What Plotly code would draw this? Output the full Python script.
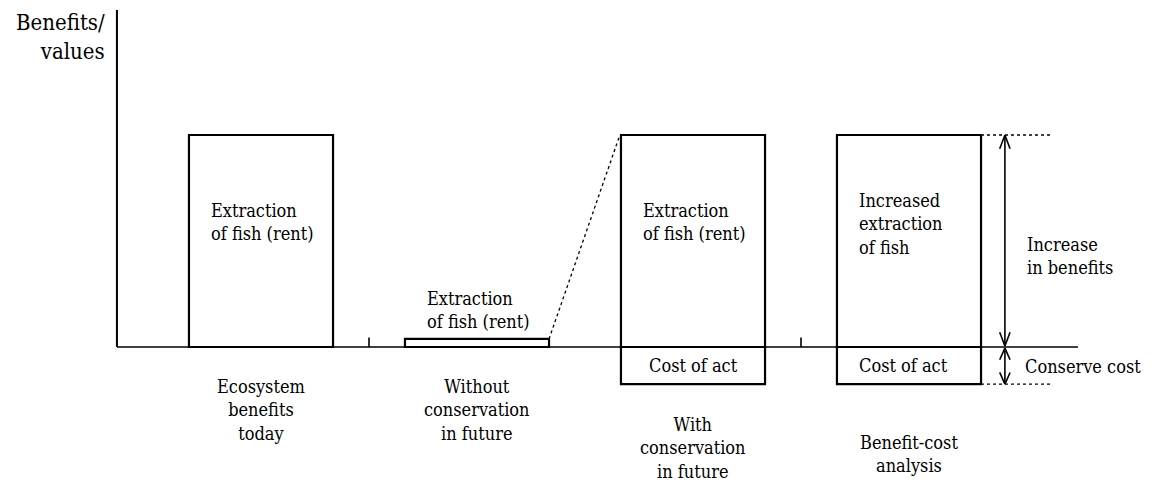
import plotly.graph_objects as go

# ---- data ----
positions = [1, 2, 3, 4]
categories = ["Ecosystem<br>benefits<br>today",
              "Without<br>conservation<br>in future",
              "With<br>conservation<br>in future",
              "Benefit-cost<br>analysis"]
benefits = [10, 0.38, 10, 10]
cost_positions = [3, 4]
costs = [1.75, 1.75]
bar_texts = ["Extraction<br>of fish (rent)",
             "Extraction<br>of fish (rent)",
             "Extraction<br>of fish (rent)",
             "Increased<br>extraction<br>of fish"]
cost_text = "Cost of act"
y_label = "Benefits/<br>values"

BAR_W = 0.667
FONT = "DejaVu Serif Condensed, DejaVu Serif"

fig = go.Figure()

fig.add_trace(go.Bar(x=positions, y=benefits, base=[0]*4, width=BAR_W,
                     marker=dict(color="white", line=dict(color="black", width=2.2)),
                     hoverinfo="skip", showlegend=False))
fig.add_trace(go.Bar(x=cost_positions, y=costs, base=[-c for c in costs], width=BAR_W,
                     marker=dict(color="white", line=dict(color="black", width=2.2)),
                     hoverinfo="skip", showlegend=False))

x_axis0 = positions[0] - BAR_W
x_axis1 = 4.782
y_top = 15.9

shapes = []
shapes.append(dict(type="line", x0=x_axis0, x1=x_axis0, y0=0, y1=y_top,
                   line=dict(color="black", width=2)))
shapes.append(dict(type="line", x0=x_axis0, x1=x_axis1, y0=0, y1=0,
                   line=dict(color="black", width=1.6)))
for t in [1.5, 3.5]:
    shapes.append(dict(type="line", x0=t, x1=t, y0=0, y1=0.45,
                       line=dict(color="black", width=1.6)))
shapes.append(dict(type="line", x0=positions[1] + BAR_W / 2, y0=benefits[1],
                   x1=positions[2] - BAR_W / 2 - 0.005, y1=benefits[2],
                   line=dict(color="black", width=1.3, dash="dot")))
right4 = positions[3] + BAR_W / 2
guide_end = 4.653
shapes.append(dict(type="line", x0=right4, x1=guide_end, y0=benefits[3], y1=benefits[3],
                   line=dict(color="black", width=1.3, dash="dot")))
shapes.append(dict(type="line", x0=right4, x1=guide_end, y0=-costs[1], y1=-costs[1],
                   line=dict(color="black", width=1.3, dash="dot")))

ax = 4.444
hw = 0.024
def double_arrow(y0, y1, h):
    shapes.append(dict(type="line", x0=ax, x1=ax, y0=y0, y1=y1,
                       line=dict(color="black", width=1.6)))
    for (yt, d) in [(y1, -1), (y0, 1)]:
        shapes.append(dict(type="line", x0=ax - hw, x1=ax, y0=yt + d * h, y1=yt,
                           line=dict(color="black", width=1.6)))
        shapes.append(dict(type="line", x0=ax + hw, x1=ax, y0=yt + d * h, y1=yt,
                           line=dict(color="black", width=1.6)))
double_arrow(0.05, benefits[3], 0.65)
double_arrow(-costs[1], -0.05, 0.55)

annotations = []
def ann(x, y, text, size=18, xanchor="center", align="center"):
    annotations.append(dict(x=x, y=y, xref="x", yref="y", text=text, showarrow=False,
                            xanchor=xanchor, yanchor="middle", align=align,
                            font=dict(family=FONT, size=size, color="black")))

ann(0.287, 14.6, y_label, size=22, xanchor="right", align="right")
bar_text_y = [5.9, 1.75, 5.9, 5.8]
for p, t, yy in zip(positions, bar_texts, bar_text_y):
    ann(p - 0.24, yy, t, xanchor="left", align="left")
ann(cost_positions[0], -0.85, cost_text)
ann(cost_positions[1] - 0.24, -0.85, cost_text, xanchor="left", align="left")
ann(4.537, 4.3, "Increase<br>in benefits", xanchor="left", align="left")
ann(4.530, -0.9, "Conserve cost", xanchor="left", align="left")
cat_y = [-2.97, -2.97, -4.76, -5.05]
for p, c, yy in zip(positions, categories, cat_y):
    ann(p, yy, c)

# page body has an 8px margin, so the figure starts at (8, 8) in the window
fig.update_layout(
    width=1143, height=477,
    margin=dict(l=0, r=0, t=0, b=0),
    font=dict(family=FONT, color="black"),
    paper_bgcolor="white", plot_bgcolor="white",
    barmode="overlay",
    xaxis=dict(range=[-0.1713, 5.1204], visible=False, fixedrange=True),
    yaxis=dict(range=[-6.509, 15.991], visible=False, fixedrange=True),
    shapes=shapes, annotations=annotations, showlegend=False,
)

fig.write_html("out.html")
